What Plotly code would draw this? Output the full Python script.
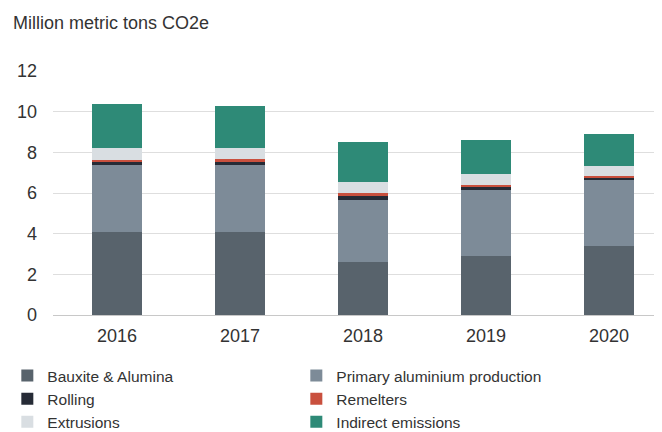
import plotly.graph_objects as go

years = ["2016", "2017", "2018", "2019", "2020"]
bauxite = [4.10, 4.10, 2.62, 2.91, 3.37]
primary = [3.26, 3.26, 3.06, 3.25, 3.28]
rolling = [0.16, 0.18, 0.18, 0.13, 0.10]
remelters = [0.12, 0.12, 0.13, 0.11, 0.10]
extrusions = [0.56, 0.53, 0.56, 0.55, 0.47]
indirect = [2.17, 2.10, 1.97, 1.64, 1.60]

series = [
    ("Bauxite & Alumina", bauxite, "#58636c"),
    ("Primary aluminium production", primary, "#7d8b98"),
    ("Rolling", rolling, "#262b36"),
    ("Remelters", remelters, "#c9503e"),
    ("Extrusions", extrusions, "#d9dee2"),
    ("Indirect emissions", indirect, "#2e8a77"),
]

FONT = "Liberation Sans, Arial, sans-serif"
TXT = "#333333"

# The page body has an 8px default margin, so the figure is sized to fill the window.
W, H = 654, 424

fig = go.Figure()
for name, vals, col in series:
    fig.add_trace(go.Bar(x=years, y=vals, name=name,
                         marker=dict(color=col, line=dict(width=0)), width=0.41))

fig.update_layout(
    width=W, height=H,
    barmode="stack",
    paper_bgcolor="white", plot_bgcolor="white",
    margin=dict(l=45, r=0, t=63, b=117, autoexpand=False),
    font=dict(family=FONT, size=18, color=TXT),
    title=dict(text="Million metric tons CO2e", x=5/W, xanchor="left", xref="container",
               y=1-15/H, yanchor="middle", yref="container",
               font=dict(family=FONT, size=18, color=TXT)),
    xaxis=dict(range=[-0.52, 4.43], showgrid=False, showline=True, linecolor="#c8c8c8", linewidth=1,
               ticks="", tickfont=dict(size=18, color=TXT), ticklabelstandoff=4, fixedrange=True),
    yaxis=dict(range=[0, 12], dtick=2, showgrid=True, gridcolor="#dedede", gridwidth=1,
               zeroline=False, showline=False, ticks="", tickfont=dict(size=18, color=TXT),
               ticklabelstandoff=15, fixedrange=True),
    legend=dict(orientation="h", x=-0.075, xanchor="left", y=-0.18, yanchor="top",
                entrywidth=244, entrywidthmode="pixels", traceorder="normal",
                font=dict(size=15.5, color=TXT), itemclick=False, itemdoubleclick=False),
    showlegend=True,
)

fig.write_html("out.html")
